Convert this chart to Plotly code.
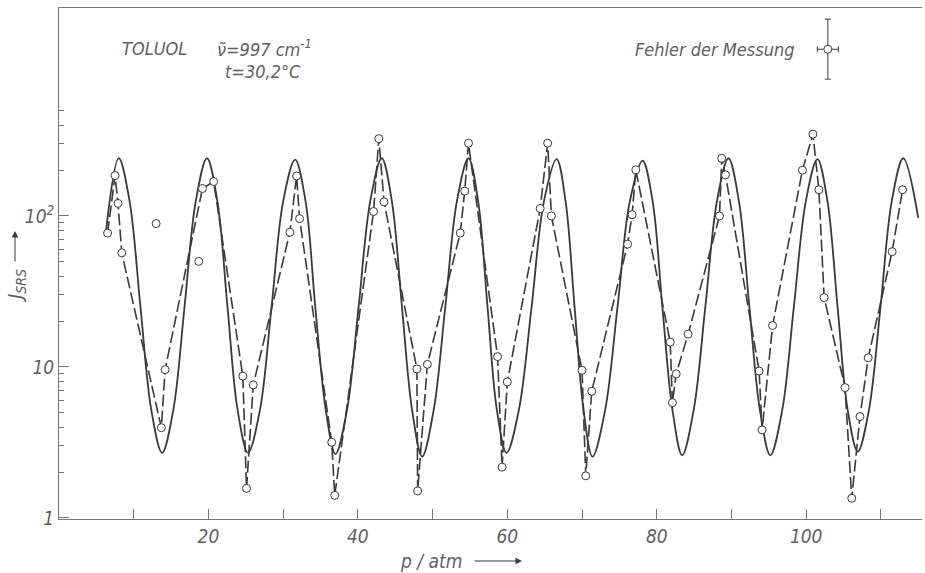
import plotly.graph_objects as go

# ---- measured points (p / atm, J_SRS) connected by the dashed line ----
p_dashed = [6.5, 7.5, 7.9, 8.4, 13.7, 14.2, 19.2, 20.7, 24.6, 25.1, 26.0, 30.9, 31.8, 32.2,
            36.5, 36.9, 42.1, 42.8, 43.5, 47.9, 48.0, 49.3, 53.7, 54.3, 54.8, 58.7, 59.3, 60.0,
            64.4, 65.4, 65.9, 70.0, 70.5, 71.3, 76.1, 76.7, 77.2, 81.8, 82.1, 82.6, 84.2,
            88.4, 88.7, 89.2, 93.7, 94.1, 95.5, 99.5, 100.9, 101.7, 102.4, 105.2, 106.1,
            107.2, 108.3, 111.5, 112.9]
j_dashed = [77, 185, 121, 57, 3.96, 9.6, 152, 169, 8.7, 1.57, 7.6, 78, 184, 96,
            3.17, 1.41, 107, 325, 124, 9.7, 1.51, 10.4, 77, 146, 303, 11.7, 2.17, 7.96,
            112, 303, 100, 9.5, 1.90, 6.9, 65, 102, 202, 14.6, 5.8, 9.0, 16.5,
            100, 241, 187, 9.4, 3.83, 18.8, 201, 348, 149, 28.8, 7.3, 1.35,
            4.69, 11.5, 58, 149]

# ---- measured points not on the dashed line ----
p_single = [13.0, 18.7]
j_single = [89, 50]

# ---- solid (calculated) curve ----
p_solid = [6.3, 8.0, 9.45, 10.9, 12.35, 13.8, 15.3, 16.8, 18.3, 19.8, 21.2, 22.55, 23.9, 25.3,
           26.9, 28.45, 30.0, 31.6, 33.0, 34.3, 35.7, 37.0, 38.55, 40.1, 41.65, 43.2, 44.55,
           45.9, 47.25, 48.6, 50.15, 51.7, 53.25, 54.8, 56.1, 57.35, 58.6, 59.9, 61.55, 63.25,
           64.9, 66.6, 67.8, 69.0, 70.2, 71.4, 73.1, 74.75, 76.4, 78.1, 79.45, 80.75, 82.1,
           83.4, 84.95, 86.5, 88.05, 89.6, 91.0, 92.4, 93.8, 95.2, 96.8, 98.35, 99.95, 101.5,
           102.85, 104.2, 105.55, 106.9, 108.4, 109.95, 111.45, 113.0, 115.0]
j_solid = [80, 241, 125, 25, 5.2, 2.7, 5.2, 25, 125, 241, 125, 25, 5.2, 2.7,
           5.2, 25, 125, 236, 125, 25, 5.2, 2.65, 5.2, 25, 125, 241, 125,
           25, 5.2, 2.55, 5.2, 25, 125, 241, 125, 25, 5.2, 2.7, 5.2, 25,
           125, 238, 125, 25, 5.2, 2.55, 5.2, 25, 125, 232, 125, 25, 5.2,
           2.6, 5.2, 25, 125, 241, 125, 25, 5.2, 2.6, 5.2, 25, 125, 238,
           125, 25, 5.2, 2.75, 5.2, 25, 125, 241, 97]

# ---- "Fehler der Messung" key (measurement error) ----
key_p = [102.9]
key_j = [1270]
key_dp = [1.4]
key_dj_up = [740]
key_dj_down = [465]

# ---- axis ticks ----
x_tickvals = [10, 20, 30, 40, 50, 60, 70, 80, 90, 100, 110]
x_ticktext = ["", "20", "", "40", "", "60", "", "80", "", "100", ""]
y_tickvals = [1, 10, 100]
y_ticktext = ["1", "10", "10<sup>2</sup>"]
y_minorvals = [2, 3, 4, 5, 6, 7, 8, 9, 20, 30, 40, 50, 60, 70, 80, 90, 200, 300, 400, 500]

INK = "#3a3a3a"
TXT = "#606060"
FONT = "DejaVu Sans Condensed, Liberation Sans Narrow, Roboto, DejaVu Sans"

fig = go.Figure()

fig.add_trace(go.Scatter(x=p_solid, y=j_solid, mode="lines",
                         line=dict(color=INK, width=1.8, shape="spline", smoothing=1.0),
                         hoverinfo="skip"))
fig.add_trace(go.Scatter(x=p_dashed, y=j_dashed, mode="lines",
                         line=dict(color=INK, width=1.6, dash="12px,4px"),
                         hoverinfo="skip"))
fig.add_trace(go.Scatter(x=p_dashed + p_single, y=j_dashed + j_single, mode="markers",
                         marker=dict(symbol="circle", size=8, color="white",
                                     line=dict(color=INK, width=1))))
fig.add_trace(go.Scatter(x=key_p, y=key_j, mode="markers",
                         marker=dict(symbol="circle", size=8, color="white",
                                     line=dict(color=INK, width=1)),
                         error_x=dict(type="data", array=key_dp, color=INK, thickness=1, width=3),
                         error_y=dict(type="data", symmetric=False, array=key_dj_up,
                                      arrayminus=key_dj_down, color=INK, thickness=1, width=3)))

fig.update_layout(
    width=925, height=573,
    margin=dict(l=59, r=3, t=8, b=54, autoexpand=False),
    paper_bgcolor="white", plot_bgcolor="white",
    showlegend=False,
    font=dict(family=FONT, color=TXT, size=16),
    xaxis=dict(range=[0, 115.5], showgrid=False, zeroline=False, automargin=False,
               showline=True, linecolor="#777", linewidth=1, mirror=True,
               ticks="inside", ticklen=10, tickcolor="#777",
               tickvals=x_tickvals, ticktext=x_ticktext,
               tickfont=dict(family=FONT, size=19, color=TXT, style="italic")),
    yaxis=dict(type="log", range=[-0.007, 3.377], showgrid=False, zeroline=False,
               automargin=False,
               showline=True, linecolor="#777", linewidth=1,
               ticks="inside", ticklen=10, tickcolor="#777",
               tickvals=y_tickvals, ticktext=y_ticktext,
               minor=dict(tickvals=y_minorvals, ticks="inside", ticklen=5, tickcolor="#777"),
               tickfont=dict(family=FONT, size=19, color=TXT, style="italic")),
)

def note(text, x, y, xanchor="center", size=18, angle=0):
    fig.add_annotation(text=text, x=x, y=y, xref="paper", yref="paper",
                       xanchor=xanchor, yanchor="middle", showarrow=False, textangle=angle,
                       font=dict(family=FONT, size=size, color=TXT, style="italic"))

note("TOLUOL", 0.111, 0.920)
note("ν̃=997 cm<sup>-1</sup>", 0.181, 0.922, xanchor="left")
note("t=30,2°C", 0.190, 0.875, xanchor="left")
note("Fehler der Messung", 0.855, 0.918, xanchor="right")
note("p / atm", 0.431, -0.082, size=19)
note("J<sub>SRS</sub>", -0.0498, 0.456, size=20, angle=-90)

# arrows next to the axis titles
fig.add_annotation(x=0.5365, y=-0.0822, xref="paper", yref="paper", text="",
                   showarrow=True, ax=-49, ay=0, arrowhead=2, arrowsize=1.3,
                   arrowwidth=1, arrowcolor=INK)
fig.add_annotation(x=-0.051, y=0.5636, xref="paper", yref="paper", text="",
                   showarrow=True, ax=0, ay=32, arrowhead=2, arrowsize=1.3,
                   arrowwidth=1, arrowcolor=INK)

fig.write_html("out.html", config={"displayModeBar": False},
               post_script="document.body.style.margin='0';document.body.style.overflow='hidden';")
